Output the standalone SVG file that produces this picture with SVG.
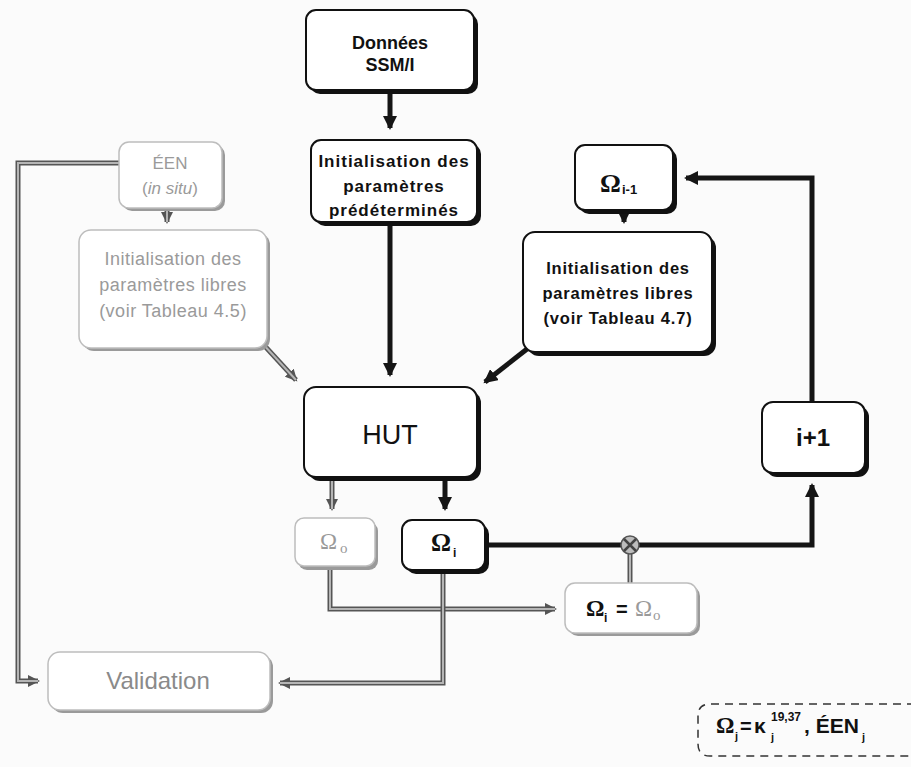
<svg xmlns="http://www.w3.org/2000/svg" width="911" height="767" viewBox="0 0 911 767">
<style>
.bg{fill:#fbfbfb}
.bs{fill:#111}
.bb{fill:#fff;stroke:#111;stroke-width:2}
.gs{fill:#9a9a9a}
.gb{fill:#fff;stroke:#bdbdbd;stroke-width:1.5}
.tb{font-family:"Liberation Sans",Arial,sans-serif;font-weight:bold;fill:#111;text-anchor:middle}
.tg{font-family:"Liberation Sans",Arial,sans-serif;fill:#9a9a9a;text-anchor:middle}
.om{font-family:"Liberation Serif","Times New Roman",serif;font-weight:bold;fill:#111}
.omg{font-family:"Liberation Serif","Times New Roman",serif;fill:#9a9a9a}
.sub{font-family:"Liberation Sans",Arial,sans-serif;font-weight:bold;fill:#111}
.cb{fill:none;stroke:#151515;stroke-width:5}
.cgo{fill:none;stroke:#555;stroke-width:5}
.cgi{fill:none;stroke:#b5b5b5;stroke-width:2}
</style>
<defs>
<marker id="ab" markerUnits="userSpaceOnUse" markerWidth="16" markerHeight="14" refX="12" refY="7" orient="auto"><path d="M0,0 L14,7 L0,14 Z" fill="#151515"/></marker>
<marker id="ag" markerUnits="userSpaceOnUse" markerWidth="14" markerHeight="12" refX="10" refY="6" orient="auto"><path d="M0,0 L12,6 L0,12 Z" fill="#555"/></marker>
</defs>
<rect class="bg" x="0" y="0" width="911" height="767"/>

<g id="connectors">
<path class="cb" d="M390,92 L390,128" marker-end="url(#ab)"/>
<path class="cb" d="M390,224 L390,375" marker-end="url(#ab)"/>
<path class="cgo" d="M167,210 L167,222" marker-end="url(#ag)"/>
<path class="cgi" d="M167,210 L167,222"/>
<path class="cgo" d="M262,343 L296,380" marker-end="url(#ag)"/>
<path class="cgi" d="M262,343 L296,380"/>
<path class="cb" d="M624,212 L624,222" marker-end="url(#ab)"/>
<path class="cb" d="M527,349 L485,382" marker-end="url(#ab)"/>
<path class="cgo" d="M332,480 L332,509" marker-end="url(#ag)"/>
<path class="cgi" d="M332,480 L332,509"/>
<path class="cb" d="M445,480 L445,509" marker-end="url(#ab)"/>
<path class="cb" d="M487,545 L812,545 L812,485" marker-end="url(#ab)"/>
<path class="cb" d="M812,402 L812,178 L686,178" marker-end="url(#ab)"/>
<path class="cgo" d="M630,553 L630,583"/>
<path class="cgi" d="M630,553 L630,583"/>
<path class="cgo" d="M330,569 L330,609 L555,609" marker-end="url(#ag)"/>
<path class="cgi" d="M330,569 L330,609 L555,609"/>
<path class="cgo" d="M443,572 L443,683 L280,683" marker-end="url(#ag)"/>
<path class="cgi" d="M443,572 L443,683 L280,683"/>
<path class="cgo" d="M119,163 L18,163 L18,681 L38,681" marker-end="url(#ag)"/>
<path class="cgi" d="M119,163 L18,163 L18,681 L38,681"/>
<g id="junction">
<circle cx="630" cy="545" r="9" fill="#bdbdbd" stroke="#555" stroke-width="1.5"/>
<path d="M624,539 L636,551 M636,539 L624,551" stroke="#444" stroke-width="2.5"/>
</g>
</g>

<g id="donnees">
<rect class="bs" x="310" y="14" width="168" height="80" rx="10"/>
<rect class="bb" x="306" y="10" width="168" height="80" rx="10"/>
<text class="tb" x="390" y="49" font-size="18">Données</text>
<text class="tb" x="390" y="71" font-size="18">SSM/I</text>
</g>

<g id="init-predet">
<rect class="bs" x="315" y="144" width="166" height="82" rx="10"/>
<rect class="bb" x="311" y="140" width="166" height="82" rx="10"/>
<text class="tb" x="394" y="167" font-size="17" letter-spacing="1">Initialisation des</text>
<text class="tb" x="394" y="192" font-size="17" letter-spacing="1">paramètres</text>
<text class="tb" x="394" y="216" font-size="17" letter-spacing="1">prédéterminés</text>
</g>

<g id="een">
<rect class="gs" x="122" y="145" width="103" height="66" rx="10"/>
<rect class="gb" x="119" y="142" width="103" height="66" rx="10"/>
<text class="tg" x="170" y="169" font-size="17">ÉEN</text>
<text class="tg" x="170" y="194" font-size="17">(<tspan font-style="italic">in situ</tspan>)</text>
</g>

<g id="init-libres-45">
<rect class="gs" x="82" y="233" width="188" height="118" rx="12"/>
<rect class="gb" x="79" y="230" width="188" height="118" rx="12"/>
<text class="tg" x="173" y="265" font-size="18" letter-spacing="0.5">Initialisation des</text>
<text class="tg" x="173" y="291" font-size="18" letter-spacing="0.5">paramètres libres</text>
<text class="tg" x="173" y="317" font-size="18" letter-spacing="0.5">(voir Tableau 4.5)</text>
</g>

<g id="omega-i-1">
<rect class="bs" x="579" y="149" width="98" height="65" rx="10"/>
<rect class="bb" x="575" y="145" width="98" height="65" rx="10"/>
<text class="om" x="600" y="192" font-size="26">Ω</text>
<text class="sub" x="622" y="194" font-size="13">i-1</text>
</g>

<g id="init-libres-47">
<rect class="bs" x="527" y="236" width="189" height="120" rx="12"/>
<rect class="bb" x="523" y="232" width="189" height="120" rx="12"/>
<text class="tb" x="618" y="274" font-size="16.5" letter-spacing="0.8">Initialisation des</text>
<text class="tb" x="618" y="299" font-size="16.5" letter-spacing="0.8">paramètres libres</text>
<text class="tb" x="618" y="324" font-size="16.5" letter-spacing="0.8">(voir Tableau 4.7)</text>
</g>

<g id="hut">
<rect class="bs" x="308" y="391" width="173" height="90" rx="12"/>
<rect class="bb" x="304" y="387" width="173" height="90" rx="12"/>
<text class="tb" x="390" y="444" font-size="27" style="font-weight:normal">HUT</text>
</g>

<g id="omega-0">
<rect class="gs" x="298" y="522" width="80" height="48" rx="9"/>
<rect class="gb" x="295" y="518" width="80" height="48" rx="9"/>
<text class="omg" x="320" y="549" font-size="23">Ω</text>
<text class="omg" x="340" y="553" font-size="15">o</text>
</g>

<g id="omega-i">
<rect class="bs" x="406" y="524" width="83" height="50" rx="10"/>
<rect class="bb" x="402" y="520" width="83" height="50" rx="10"/>
<text class="om" x="431" y="551" font-size="25">Ω</text>
<text class="sub" x="453" y="557" font-size="12">i</text>
</g>

<g id="i-plus-1">
<rect class="bs" x="766" y="406" width="103" height="71" rx="11"/>
<rect class="bb" x="762" y="402" width="103" height="71" rx="11"/>
<text class="tb" x="813" y="446" font-size="24">i+1</text>
</g>

<g id="omega-eq">
<rect class="gs" x="568" y="586" width="132" height="50" rx="10"/>
<rect class="gb" x="565" y="583" width="132" height="50" rx="10"/>
<text class="om" x="586" y="616" font-size="23">Ω</text>
<text class="sub" x="604" y="622" font-size="12">i</text>
<text class="sub" x="616" y="616" font-size="20">=</text>
<text class="omg" x="635" y="616" font-size="23">Ω</text>
<text class="omg" x="653" y="620" font-size="15">o</text>
</g>

<g id="validation">
<rect class="gs" x="51" y="655" width="222" height="58" rx="12"/>
<rect class="gb" x="48" y="652" width="222" height="58" rx="12"/>
<text class="tg" x="158" y="689" font-size="24" style="fill:#8a8a8a">Validation</text>
</g>

<g id="legend">
<path d="M915,704 L710,704 Q698,704 698,716 L698,744 Q698,756 710,756 L915,756" fill="none" stroke="#333" stroke-width="1.5" stroke-dasharray="8,6"/>
<text class="om" x="716" y="733" font-size="23">Ω</text>
<text class="sub" x="735" y="740" font-size="11">j</text>
<text class="sub" x="740" y="733" font-size="20">=</text>
<text class="sub" x="754" y="733" font-size="21">κ</text>
<text class="sub" x="771" y="721" font-size="12">19,37</text>
<text class="sub" x="771" y="741" font-size="11">j</text>
<text class="sub" x="804" y="733" font-size="21">, ÉEN</text>
<text class="sub" x="862" y="741" font-size="11">j</text>
</g>
</svg>
